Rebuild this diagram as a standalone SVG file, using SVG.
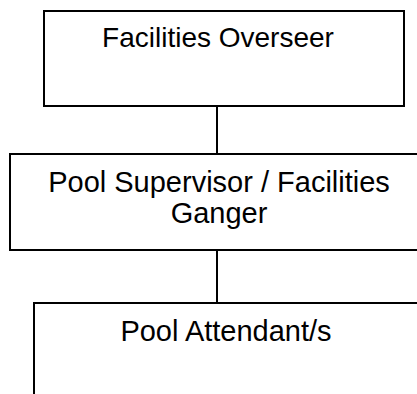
<svg xmlns="http://www.w3.org/2000/svg" width="417" height="394" viewBox="0 0 417 394">
<style>
.box{fill:#fff;stroke:#000;stroke-width:2}
.lbl{font-family:"Liberation Sans",Arial,sans-serif;font-size:29px;fill:#000;text-anchor:middle}
.conn line{stroke:#000;stroke-width:2}
</style>
<rect width="417" height="394" fill="#fff"/>
<g class="conn">
<line x1="217" y1="106" x2="217" y2="154"/>
<line x1="217" y1="250" x2="217" y2="303"/>
</g>
<g id="n1">
<rect class="box" x="44" y="11" width="360" height="95"/>
<text class="lbl" x="218" y="47" style="font-size:28px">Facilities Overseer</text>
</g>
<g id="n2">
<rect class="box" x="10" y="154" width="420" height="96"/>
<text class="lbl" x="219" y="192">Pool Supervisor / Facilities</text>
<text class="lbl" x="219" y="223">Ganger</text>
</g>
<g id="n3">
<rect class="box" x="34" y="303" width="400" height="100"/>
<text class="lbl" x="226" y="341">Pool Attendant/s</text>
</g>
</svg>
